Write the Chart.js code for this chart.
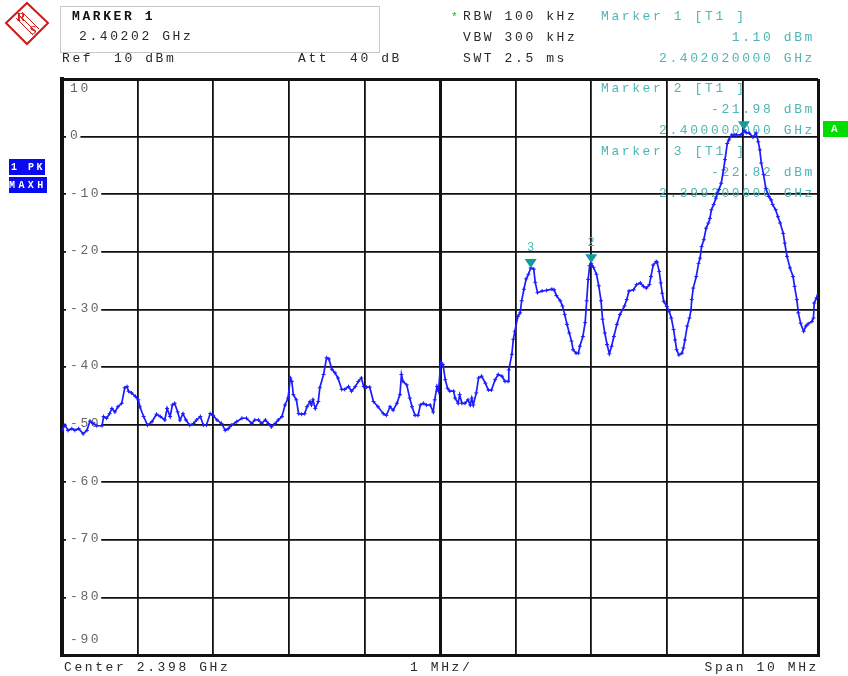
<!DOCTYPE html>
<html lang="en">
<head>
  <meta charset="UTF-8" />
  <title>Spectrum Analyzer Trace</title>
  <script src="https://cdn.jsdelivr.net/npm/chart.js"></script>
  <style>
    html, body { margin: 0; padding: 0; background: #fff; }
    canvas { display: block; }
  </style>
</head>
<body>
  <canvas id="spec" width="848" height="676"></canvas>

  <script>
    // Span: center 2.398 GHz, 10 MHz wide, 1 MHz / div
    const spanStartMHz = 2393;
    const spanStopMHz = 2403;
    const refLevelDbm = 10;
    const bottomLevelDbm = -90;

    const yTickValues = [10, 0, -10, -20, -30, -40, -50, -60, -70, -80, -90];
    const yTickLabels = ['10', '0', '-10', '-20', '-30', '-40', '-50', '-60', '-70', '-80', '-90'];

    // MAXH trace
    const traceFreqMHz = [
      // 2393 - 2395.5
      2393.00, 2393.04, 2393.08, 2393.13, 2393.17, 2393.22, 2393.28, 2393.33, 2393.37, 2393.41,
      2393.46, 2393.53, 2393.55, 2393.59, 2393.63, 2393.66, 2393.70, 2393.74, 2393.79, 2393.83,
      2393.86, 2393.88, 2393.92, 2393.97, 2394.01, 2394.03, 2394.08, 2394.13, 2394.19, 2394.25,
      2394.30, 2394.36, 2394.39, 2394.43, 2394.46, 2394.49, 2394.53, 2394.56, 2394.60, 2394.64,
      2394.69, 2394.74, 2394.78, 2394.83, 2394.87, 2394.91, 2394.96, 2395.00, 2395.05, 2395.11,
      2395.16, 2395.20, 2395.24, 2395.31, 2395.38, 2395.44, 2395.51, 2395.55,
      // 2395.6 - 2398
      2395.60, 2395.64, 2395.69, 2395.73, 2395.77, 2395.82, 2395.86, 2395.91, 2395.95, 2395.99,
      2396.02, 2396.04, 2396.06, 2396.10, 2396.13, 2396.17, 2396.21, 2396.24, 2396.28, 2396.30,
      2396.32, 2396.35, 2396.39, 2396.41, 2396.46, 2396.50, 2396.53, 2396.57, 2396.61, 2396.65,
      2396.70, 2396.74, 2396.79, 2396.83, 2396.88, 2396.92, 2396.96, 2396.99, 2397.03, 2397.07,
      2397.12, 2397.18, 2397.25, 2397.29, 2397.34, 2397.38, 2397.43, 2397.47, 2397.49, 2397.51,
      2397.56, 2397.60, 2397.63, 2397.67, 2397.71, 2397.74, 2397.78, 2397.82, 2397.87, 2397.91,
      2397.93, 2397.96, 2397.98,
      // 2398 - 2400.5
      2398.01, 2398.04, 2398.07, 2398.10, 2398.13, 2398.18, 2398.20, 2398.24, 2398.26, 2398.29,
      2398.33, 2398.37, 2398.40, 2398.42, 2398.44, 2398.48, 2398.51, 2398.55, 2398.60, 2398.64,
      2398.68, 2398.73, 2398.77, 2398.82, 2398.86, 2398.90, 2398.91, 2398.95, 2398.97, 2398.99,
      2399.03, 2399.06, 2399.08, 2399.11, 2399.14, 2399.17, 2399.20, 2399.24, 2399.26, 2399.29,
      2399.35, 2399.41, 2399.48, 2399.51, 2399.54, 2399.59, 2399.62, 2399.65, 2399.68, 2399.71,
      2399.74, 2399.76, 2399.80, 2399.83, 2399.85, 2399.89, 2399.92, 2399.94, 2399.96, 2399.98,
      2400.00, 2400.03, 2400.07, 2400.10, 2400.13, 2400.15, 2400.18, 2400.21, 2400.24, 2400.27,
      2400.30, 2400.34, 2400.38, 2400.44, 2400.47, 2400.50,
      // 2400.5 - 2403
      2400.56, 2400.60, 2400.65, 2400.69, 2400.73, 2400.77, 2400.79, 2400.82, 2400.86, 2400.87,
      2400.90, 2400.92, 2400.94, 2400.96, 2401.00, 2401.03, 2401.06, 2401.09, 2401.11, 2401.13,
      2401.16, 2401.20, 2401.22, 2401.24, 2401.27, 2401.30, 2401.32, 2401.33, 2401.35, 2401.39,
      2401.42, 2401.44, 2401.46, 2401.49, 2401.52, 2401.55, 2401.57, 2401.59, 2401.62, 2401.65,
      2401.67, 2401.69, 2401.72, 2401.75, 2401.77, 2401.80, 2401.82, 2401.86, 2401.89, 2401.92,
      2401.98, 2402.02, 2402.05, 2402.09, 2402.14, 2402.18, 2402.21, 2402.23, 2402.25, 2402.28,
      2402.31, 2402.35, 2402.38, 2402.40, 2402.44, 2402.47, 2402.50, 2402.54, 2402.56, 2402.59,
      2402.63, 2402.67, 2402.69, 2402.72, 2402.74, 2402.77, 2402.81, 2402.84, 2402.87, 2402.92,
      2402.94, 2402.95, 2402.98, 2403.00
    ];

    const traceLevelDbm = [
      // 2393 - 2395.5
      -51.0, -50.1, -51.0, -50.7, -51.0, -50.7, -51.6, -51.0, -49.4, -49.8,
      -50.2, -50.2, -48.6, -48.9, -48.1, -47.2, -47.8, -46.9, -46.3, -43.6,
      -43.4, -44.2, -44.5, -45.1, -45.7, -46.9, -48.6, -50.1, -49.5, -48.2,
      -48.6, -49.2, -47.2, -48.6, -46.6, -46.3, -47.8, -49.2, -48.1, -49.2,
      -50.1, -49.8, -49.2, -48.6, -50.1, -50.1, -48.1, -48.4, -49.2, -49.8,
      -51.0, -50.7, -50.1, -49.5, -48.9, -48.9, -49.8, -49.2,
      // 2395.6 - 2398
      -49.2, -49.8, -49.2, -49.8, -50.4, -49.8, -49.2, -48.6, -46.6, -45.4,
      -41.9, -42.5, -44.8, -45.7, -48.1, -48.2, -48.1, -46.9, -46.0, -46.6,
      -45.7, -47.2, -46.0, -43.6, -41.3, -38.4, -38.6, -40.4, -41.0, -41.9,
      -43.9, -43.9, -43.4, -44.2, -43.4, -42.5, -41.9, -43.4, -43.5, -43.5,
      -46.0, -46.9, -48.1, -48.4, -46.9, -47.5, -46.3, -44.8, -41.3, -42.5,
      -43.1, -45.4, -46.9, -48.4, -48.4, -46.6, -46.3, -46.6, -46.6, -47.8,
      -45.7, -43.4, -44.2,
      // 2398 - 2400.5
      -39.2, -39.6, -42.2, -43.7, -44.2, -44.2, -45.4, -46.3, -44.8, -46.3,
      -46.3, -45.7, -46.6, -45.4, -46.6, -44.5, -41.9, -41.6, -42.8, -44.0,
      -44.0, -42.2, -41.3, -41.6, -42.5, -42.5, -40.5, -37.8, -35.2, -33.8,
      -31.2, -30.6, -28.5, -26.5, -24.7, -23.9, -22.8, -23.0, -25.3, -27.1,
      -26.8, -26.7, -26.5, -26.6, -27.6, -28.5, -29.4, -30.9, -32.6, -34.1,
      -35.5, -37.0, -37.6, -37.6, -36.4, -34.7, -32.3, -28.5, -24.8, -22.4,
      -22.0, -22.7, -23.9, -25.9, -28.5, -31.7, -34.1, -36.1, -37.7, -36.4,
      -34.7, -32.6, -30.9, -29.4, -28.3, -26.8,
      // 2400.5 - 2403
      -26.6, -25.7, -25.4, -26.0, -26.3, -25.7, -24.3, -22.3, -21.7, -21.8,
      -23.4, -25.4, -27.2, -28.6, -29.5, -30.3, -31.5, -33.5, -35.3, -37.0,
      -37.9, -37.6, -36.7, -35.3, -32.9, -31.5, -30.1, -28.3, -26.3, -24.3,
      -22.0, -21.1, -19.1, -17.9, -15.9, -15.0, -14.2, -12.7, -11.8, -10.7,
      -9.8, -9.2, -8.1, -5.8, -4.0, -1.2, -0.6, 0.3, 0.3, 0.3,
      0.3, 1.1, 0.7, 0.6, -0.1, 0.6, -0.9, -2.3, -4.6, -6.6,
      -9.0, -10.4, -11.0, -11.8, -12.7, -13.9, -15.0, -16.8, -18.5, -20.8,
      -22.8, -24.3, -26.0, -28.3, -30.6, -32.4, -33.8, -32.9, -32.5, -32.1,
      -31.5, -28.9, -28.0, -27.5
    ];

    // markers
    const markerFreqMHz = [2402.02, 2400.00, 2399.20];
    const markerLevelDbm = [1.10, -21.98, -22.82];
    const markerTags = ['', '2', '3'];

    const MONO = '"Liberation Mono", "DejaVu Sans Mono", monospace';
    const ADV = 10.4;
    const TEAL = '#4fb5b5';
    const TEXT = '#2a2a2a';

    // draws monospaced text with fixed advance (instrument font is very wide)
    const mono = (ctx, str, x, y, color, opts = {}) => {
      const adv = opts.adv || ADV;
      ctx.save();
      ctx.font = (opts.bold ? 'bold ' : '') + (opts.size || 13) + 'px ' + MONO;
      ctx.fillStyle = color;
      ctx.textBaseline = 'middle';
      ctx.textAlign = 'left';
      const x0 = opts.align === 'right' ? x - str.length * adv : x;
      for (let i = 0; i < str.length; i++) ctx.fillText(str[i], x0 + i * adv, y);
      ctx.restore();
      return x0 + str.length * adv;
    };

    const screenPlugin = {
      id: 'screen',
      beforeDatasetsDraw(chart) {
        const { ctx, scales: { y } } = chart;
        // level labels sit on the grid lines
        yTickValues.forEach((v, i) => {
          let py = y.getPixelForValue(v);
          if (i === 0) py += 10;
          else if (i === yTickValues.length - 1) py -= 15;
          else {
            py -= 1;
            ctx.fillStyle = '#fff';
            ctx.fillRect(66, py - 6, yTickLabels[i].length * ADV + 4, 12);
          }
          mono(ctx, yTickLabels[i], 70, py, '#666');
        });

        // marker readouts inside the grid
        mono(ctx, 'Marker 2 [T1 ]', 601, 89, TEAL);
        mono(ctx, '-21.98 dBm', 815, 110, TEAL, { align: 'right' });
        mono(ctx, '2.400000000 GHz', 815, 131, TEAL, { align: 'right' });
        mono(ctx, 'Marker 3 [T1 ]', 601, 152, TEAL);
        mono(ctx, '-22.82 dBm', 815, 173, TEAL, { align: 'right' });
        mono(ctx, '2.399200000 GHz', 815, 194, TEAL, { align: 'right' });
      },
      afterDatasetsDraw(chart) {
        const { ctx, scales: { x, y } } = chart;
        markerFreqMHz.forEach((f, i) => {
          const px = x.getPixelForValue(f);
          const py = y.getPixelForValue(markerLevelDbm[i]);
          ctx.save();
          ctx.fillStyle = '#139a9a';
          ctx.beginPath();
          ctx.moveTo(px, py);
          ctx.lineTo(px - 6, py - 9);
          ctx.lineTo(px + 6, py - 9);
          ctx.closePath();
          ctx.fill();
          ctx.restore();
          if (markerTags[i]) {
            ctx.save();
            ctx.font = '12px ' + MONO;
            ctx.fillStyle = TEAL;
            ctx.textAlign = 'center';
            ctx.textBaseline = 'middle';
            ctx.fillText(markerTags[i], px, py - 20);
            ctx.restore();
          }
        });
      },
      afterDraw(chart) {
        const { ctx } = chart;

        // R&S logo
        ctx.save();
        ctx.strokeStyle = '#d01818';
        ctx.lineWidth = 2;
        ctx.beginPath();
        ctx.moveTo(27, 3); ctx.lineTo(48, 23); ctx.lineTo(27, 44); ctx.lineTo(6, 23);
        ctx.closePath();
        ctx.stroke();
        ctx.lineWidth = 1;
        [-3, 0, 3].forEach(k => {
          ctx.beginPath();
          ctx.moveTo(19 + k, 15 - k);
          ctx.lineTo(36 + k, 32 - k);
          ctx.stroke();
        });
        ctx.fillStyle = '#d01818';
        ctx.font = 'bold 12px "Liberation Serif", serif';
        ctx.textAlign = 'center';
        ctx.textBaseline = 'middle';
        ctx.fillText('R', 21, 18);
        ctx.fillText('S', 33, 31);
        ctx.restore();

        // marker box
        ctx.save();
        ctx.strokeStyle = '#c8c8c8';
        ctx.lineWidth = 1;
        ctx.strokeRect(60.5, 6.5, 319, 46);
        ctx.restore();
        mono(ctx, 'MARKER 1', 72, 17, '#111', { bold: true });
        mono(ctx, '2.40202 GHz', 79, 37, TEXT);

        mono(ctx, 'Ref  10 dBm', 62, 59, TEXT);
        mono(ctx, 'Att  40 dB', 298, 59, TEXT);

        mono(ctx, '*', 451, 17, '#00c000', { size: 11 });
        mono(ctx, 'RBW 100 kHz', 463, 16.5, TEXT);
        mono(ctx, 'VBW 300 kHz', 463, 37.5, TEXT);
        mono(ctx, 'SWT 2.5 ms', 463, 58.5, TEXT);

        mono(ctx, 'Marker 1 [T1 ]', 601, 16.5, TEAL);
        mono(ctx, '1.10 dBm', 815, 37.5, TEAL, { align: 'right' });
        mono(ctx, '2.402020000 GHz', 815, 58.5, TEAL, { align: 'right' });

        mono(ctx, 'Center 2.398 GHz', 64, 668, TEXT);
        mono(ctx, '1 MHz/', 410, 668, TEXT);
        mono(ctx, 'Span 10 MHz', 819, 668, TEXT, { align: 'right' });

        // trace / detector badges
        ctx.save();
        ctx.fillStyle = '#0a0af0';
        ctx.fillRect(9, 159, 36, 16);
        ctx.fillRect(9, 177, 38, 16);
        ctx.fillStyle = '#00dd00';
        ctx.fillRect(823, 121, 25, 16);
        ctx.restore();
        mono(ctx, '1 PK', 11, 167, '#fff', { bold: true, size: 10, adv: 8.5 });
        mono(ctx, 'MAXH', 9, 185, '#fff', { bold: true, size: 10, adv: 9.4 });
        mono(ctx, 'A', 831, 129, '#fff', { bold: true, size: 11 });
      }
    };

    const edgeOrCenter = v => v === spanStartMHz || v === spanStopMHz || v === 2398;

    new Chart(document.getElementById('spec'), {
      type: 'scatter',
      data: {
        datasets: [{
          data: traceFreqMHz.map((f, i) => ({ x: f, y: traceLevelDbm[i] })),
          showLine: true,
          borderColor: '#1c1cff',
          borderWidth: 1.7,
          pointStyle: 'cross',
          pointRadius: 2,
          pointBorderWidth: 1,
          pointBorderColor: '#1c1cff',
          tension: 0
        }]
      },
      options: {
        responsive: false,
        animation: false,
        devicePixelRatio: 1,
        layout: { padding: { left: 62, right: 30, top: 79, bottom: 21 } },
        plugins: {
          legend: { display: false },
          tooltip: { enabled: false }
        },
        scales: {
          x: {
            type: 'linear',
            min: spanStartMHz,
            max: spanStopMHz,
            ticks: { stepSize: 1, display: false },
            grid: {
              color: '#111',
              drawTicks: false,
              lineWidth: c => (c.tick && edgeOrCenter(c.tick.value)) ? 3 : 1.8
            },
            border: { display: true, color: '#111', width: 3 }
          },
          y: {
            min: bottomLevelDbm,
            max: refLevelDbm,
            ticks: { stepSize: 10, display: false },
            grid: {
              color: '#111',
              drawTicks: false,
              lineWidth: c => (c.tick && (c.tick.value === refLevelDbm || c.tick.value === bottomLevelDbm)) ? 3 : 1.8
            },
            border: { display: true, color: '#111', width: 4 }
          }
        }
      },
      plugins: [screenPlugin]
    });
  </script>
</body>
</html>
